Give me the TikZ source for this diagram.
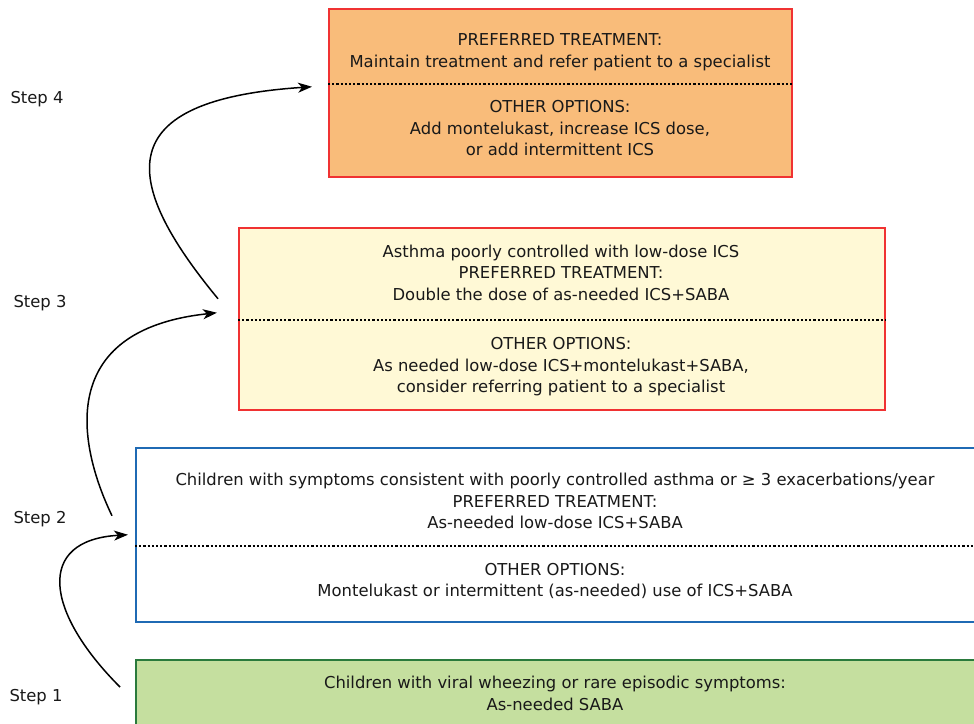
\documentclass[tikz,border=0pt]{standalone}
\usepackage{fontspec}
\setmainfont{DejaVu Sans}
\usetikzlibrary{arrows,arrows.meta}
\definecolor{stepfour}{HTML}{F9BC7A}
\definecolor{stepthree}{HTML}{FFF9D6}
\definecolor{stepone}{HTML}{C5DF9F}
\definecolor{redline}{HTML}{F03232}
\definecolor{blueline}{HTML}{1F6AB4}
\definecolor{greenline}{HTML}{2A7A3C}
\tikzstyle{arrow} = [line width=1.5pt, ->, >={Stealth[length=14pt,width=10pt,inset=4pt]}]
\tikzstyle{stepbox} = [draw, line width=1.5pt, inner sep=0pt, anchor=north west]
\tikzstyle{divider} = [line width=1.2pt, dash pattern=on 2.2pt off 2pt]
\tikzstyle{boxtext} = [align=center, text=black!90, font=\fontsize{16.4}{21.5}\selectfont]
\tikzstyle{steplabel} = [text=black!90, font=\fontsize{16.4}{19}\selectfont]

\begin{document}
\begin{tikzpicture}[x=1pt, y=-1pt]
    \useasboundingbox (0,0) rectangle (974,723);
    \node[stepbox,draw=redline,fill=stepfour,minimum width=463,minimum height=168]
        (box4) at (328,8) {};
    \node[stepbox,draw=redline,fill=stepthree,minimum width=646,minimum height=182]
        (box3) at (238,227) {};
    \node[stepbox,draw=blueline,fill=white,minimum width=860,minimum height=174]
        (box2) at (135,447) {};
    \node[stepbox,draw=greenline,fill=stepone,minimum width=860,minimum height=80]
        (box1) at (135,659) {};
    \draw[divider] (box4.west |- 0,84) -- (box4.east |- 0,84);
    \draw[divider] (box3.west |- 0,320) -- (box3.east |- 0,320);
    \draw[divider] (box2.west |- 0,546) -- (box2.east |- 0,546);
    \node[boxtext] (box4pref) at (560,52)
        {PREFERRED TREATMENT:\\Maintain treatment and refer patient to a specialist};
    \node[boxtext] (box4other) at (560,128.5)
        {OTHER OPTIONS:\\Add montelukast, increase ICS dose,\\or add intermittent ICS};
    \node[boxtext] (box3pref) at (561,272.5)
        {Asthma poorly controlled with low-dose ICS\\PREFERRED TREATMENT:\\Double the dose of as-needed ICS+SABA};
    \node[boxtext] (box3other) at (561,367)
        {OTHER OPTIONS:\\As needed low-dose ICS+montelukast+SABA,\\consider referring patient to a specialist};
    \node[boxtext] (box2pref) at (555,501)
        {Children with symptoms consistent with poorly controlled asthma or ≥ 3 exacerbations/year\\PREFERRED TREATMENT:\\As-needed low-dose ICS+SABA};
    \node[boxtext] (box2other) at (555,581)
        {OTHER OPTIONS:\\Montelukast or intermittent (as-needed) use of ICS+SABA};
    \node[boxtext] (box1text) at (555,693.5)
        {Children with viral wheezing or rare episodic symptoms:\\As-needed SABA};
    \node[steplabel] (step4) at (37,99) {Step 4};
    \node[steplabel] (step3) at (40,303) {Step 3};
    \node[steplabel] (step2) at (40,519) {Step 2};
    \node[steplabel] (step1) at (36,697) {Step 1};
    \draw[arrow] ([xshift=-15pt,yshift=-28pt]box1.north west) .. controls (45,612) and (35,540) .. ([xshift=-7pt]box2.west);
    \draw[arrow] ([xshift=-23pt,yshift=19pt]box2.west) .. controls (78,445) and (55,330) .. ([xshift=-21pt,yshift=6pt]box3.west);
    \draw[arrow] ([xshift=-20pt,yshift=20pt]box3.west) .. controls (120,180) and (110,100) .. ([xshift=-16pt,yshift=6pt]box4.west);
\end{tikzpicture}
\end{document}
